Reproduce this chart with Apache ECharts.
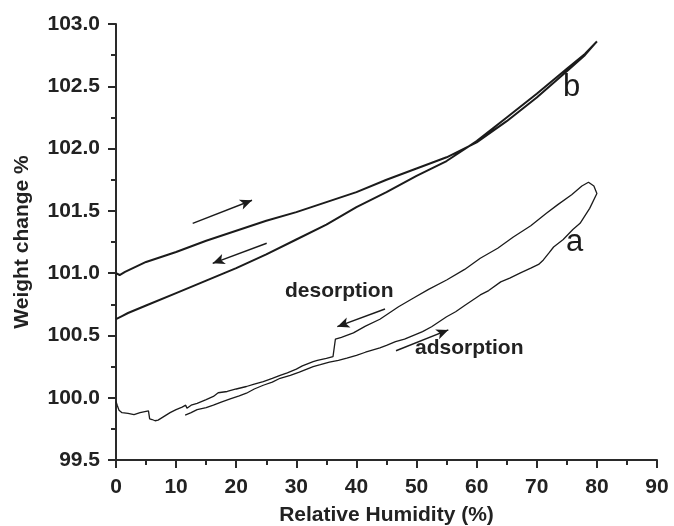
<!DOCTYPE html>
<html>
<head>
<meta charset="utf-8">
<script src="https://cdn.jsdelivr.net/npm/echarts@6/dist/echarts.min.js"></script>
<style>
  html, body { margin: 0; padding: 0; background: #fff; }
  #chart { width: 674px; height: 526px; }
</style>
</head>
<body>
<div id="chart"></div>
<script>
// Sample b: adsorption branch (0 -> 80 %RH) and desorption branch (80 -> 0 %RH)
const bAdsRH = [0, 0.6, 1.5, 5, 10, 15, 20, 25, 30, 35, 40, 45, 50, 55, 60, 65, 70, 75, 78, 80];
const bAdsW  = [101.00, 100.985, 101.01, 101.09, 101.17, 101.26, 101.34, 101.42, 101.49, 101.57,
                101.65, 101.75, 101.84, 101.93, 102.05, 102.22, 102.41, 102.62, 102.75, 102.86];
const bDesRH = [80, 78, 75, 70, 65, 60, 55, 50, 45, 40, 35, 30, 25, 20, 15, 10, 5, 2, 1, 0];
const bDesW  = [102.86, 102.76, 102.64, 102.44, 102.25, 102.06, 101.90, 101.78, 101.65, 101.53,
                101.39, 101.27, 101.15, 101.04, 100.94, 100.84, 100.74, 100.68, 100.655, 100.63];

// Sample a: adsorption branch (11.5 -> 80 %RH)
const aAdsRH = [11.5, 12.5, 13.5, 15, 16.2, 17.5, 19, 20.5, 21.7, 23,
                24.5, 26, 27.3, 29, 30.5, 32.8, 34, 35.5, 37, 38.4,
                40, 41.5, 43.9, 45, 46.5, 48, 49.5, 51, 52.5, 55,
                56.5, 58, 60.6, 62, 64, 65.5, 67.2, 69, 70.3, 71.1,
                72, 72.8, 74.4, 76, 77.2, 78.8, 80];
const aAdsW  = [99.86, 99.88, 99.905, 99.92, 99.94, 99.965, 99.99, 100.015, 100.036, 100.07,
                100.10, 100.125, 100.156, 100.18, 100.205, 100.25, 100.265, 100.285, 100.30, 100.317,
                100.34, 100.365, 100.40, 100.42, 100.45, 100.47, 100.50, 100.53, 100.57, 100.65,
                100.69, 100.74, 100.825, 100.86, 100.93, 100.96, 101.0, 101.04, 101.07, 101.106,
                101.16, 101.21, 101.27, 101.35, 101.40, 101.52, 101.64];

// Sample a: desorption branch (80 -> 0 %RH)
const aDesRH = [80, 79.5, 78.6, 77.5, 75.8, 73.5, 71.6, 69, 66.1, 63.5,
                60.6, 58, 55, 52, 49.5, 47, 43.9, 41.5, 39.5, 37.5,
                36.5, 36.3, 36.1, 35, 33.5, 32.8, 31, 30, 28.5, 27.3,
                26, 24.5, 23, 21.7, 20, 18.5, 17, 16.2, 15, 14,
                13.5, 12.5, 11.8, 11.6, 11, 10, 9, 8, 7, 6.5,
                6, 5.6, 5.4, 5.2, 4, 3, 2, 1, 0.5, 0.2, 0];
const aDesW  = [101.64, 101.70, 101.73, 101.70, 101.63, 101.55, 101.48, 101.38, 101.29, 101.20,
                101.12, 101.03, 100.945, 100.87, 100.80, 100.73, 100.63, 100.575, 100.52, 100.485,
                100.47, 100.46, 100.33, 100.315, 100.30, 100.29, 100.255, 100.23, 100.20, 100.18,
                100.155, 100.13, 100.11, 100.09, 100.07, 100.05, 100.04, 100.01, 99.985, 99.965,
                99.955, 99.94, 99.915, 99.94, 99.925, 99.905, 99.88, 99.85, 99.82, 99.815,
                99.825, 99.83, 99.895, 99.89, 99.88, 99.865, 99.875, 99.88, 99.90, 99.94, 99.97];

// Direction arrows (start and end, in %RH / weight %)
const arrowFrom = [[12.76, 101.40], [25.07, 101.24], [44.75, 100.712], [46.58, 100.377]];
const arrowTo   = [[22.63, 101.585], [16.09, 101.079], [36.82, 100.57], [55.28, 100.544]];

const zip = (xs, ys) => xs.map((x, i) => [x, ys[i]]);
const loopB = zip(bAdsRH, bAdsW).concat(zip(bDesRH, bDesW));
const loopA = zip(aAdsRH, aAdsW).concat(zip(aDesRH, aDesW));

const FONT = '"Liberation Sans", Arial, Helvetica, sans-serif';
const INK = '#1b1b1b';
const TXT = '#222';

const chart = echarts.init(document.getElementById('chart'), null, { renderer: 'canvas' });

const arrowLines = arrowFrom.map((p, i) => [{ coord: p }, { coord: arrowTo[i] }]);

const axisCommon = {
  axisLine: { show: true, onZero: false, lineStyle: { color: '#2a2a2a', width: 2 } },
  axisTick: { show: true, inside: false, length: 8, lineStyle: { color: '#2a2a2a', width: 2 } },
  minorTick: { show: true, splitNumber: 2, length: 5, lineStyle: { color: '#2a2a2a', width: 2 } },
  splitLine: { show: false }
};

chart.setOption({
  animation: false,
  backgroundColor: '#fff',
  grid: { left: 116, right: 17, top: 24, bottom: 66, containLabel: false, outerBoundsMode: 'none' },
  xAxis: Object.assign({
    type: 'value', min: 0, max: 90, interval: 10,
    name: 'Relative Humidity (%)', nameLocation: 'middle', nameGap: 45,
    nameTextStyle: { fontFamily: FONT, fontWeight: 'bold', fontSize: 21, color: TXT },
    axisLabel: { fontFamily: FONT, fontWeight: 'bold', fontSize: 21, color: TXT, margin: 17 }
  }, axisCommon),
  yAxis: Object.assign({
    type: 'value', min: 99.5, max: 103.0, interval: 0.5,
    name: 'Weight change %', nameLocation: 'middle', nameGap: 83, nameRotate: 90,
    nameTextStyle: { fontFamily: FONT, fontWeight: 'bold', fontSize: 21, color: TXT },
    axisLabel: {
      fontFamily: FONT, fontWeight: 'bold', fontSize: 21, color: TXT, margin: 16,
      formatter: v => v.toFixed(1)
    }
  }, axisCommon),
  series: [
    {
      name: 'b', type: 'line', data: loopB, showSymbol: false, smooth: false,
      lineStyle: { color: INK, width: 2 }, silent: true,
      markLine: {
        silent: true, symbol: ['none', 'arrow'], symbolSize: [8, 12],
        label: { show: false },
        lineStyle: { color: INK, width: 1.4, type: 'solid' },
        data: arrowLines
      }
    },
    {
      name: 'a', type: 'line', data: loopA, showSymbol: false, smooth: false,
      lineStyle: { color: INK, width: 1.3 }, silent: true
    }
  ],
  graphic: [
    { type: 'text', left: 563, top: 72, style: { text: 'b', font: '31px ' + FONT, fill: INK } },
    { type: 'text', left: 566, top: 227, style: { text: 'a', font: '31px ' + FONT, fill: INK } },
    { type: 'text', left: 285, top: 281, style: { text: 'desorption', font: 'bold 21px ' + FONT, fill: TXT } },
    { type: 'text', left: 415, top: 338, style: { text: 'adsorption', font: 'bold 21px ' + FONT, fill: TXT } }
  ]
});
</script>
</body>
</html>
